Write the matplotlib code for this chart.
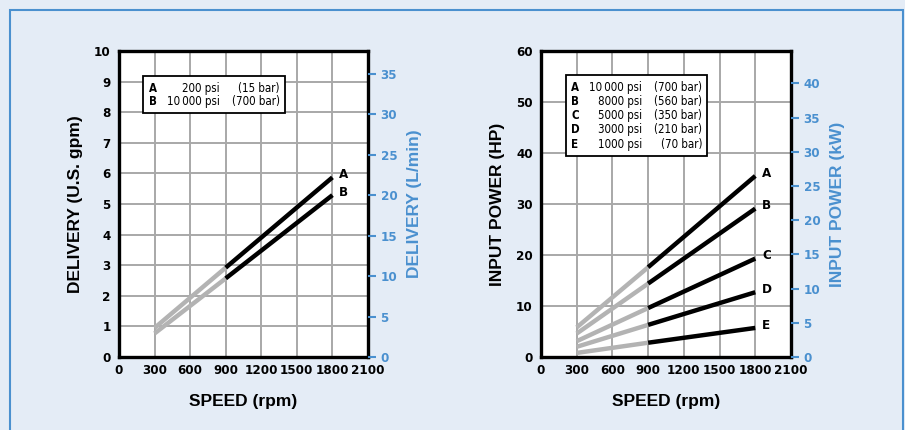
import numpy as np
import matplotlib
matplotlib.use("Agg")
import matplotlib.pyplot as plt
from matplotlib.patches import Rectangle

# speed points (rpm): gray segment 300-900, black segment 900-1800
speed = [300, 900, 1800]

# delivery (U.S. gpm)
deliv_labels = ["A", "B"]
deliv_A = [0.95, 2.92, 5.87]
deliv_B = [0.77, 2.57, 5.29]
deliv_legend = [("A", "200 psi", "(15 bar)"),
                ("B", "10\u2009000 psi", "(700 bar)")]

# input power (HP)
power_labels = ["A", "B", "C", "D", "E"]
power_A = [5.8, 17.6, 35.5]
power_B = [4.6, 14.4, 29.1]
power_C = [3.1, 9.6, 19.3]
power_D = [2.0, 6.3, 12.7]
power_E = [0.8, 2.8, 5.7]
power_legend = [("A", "10\u2009000 psi", "(700 bar)"),
                ("B", "8000 psi", "(560 bar)"),
                ("C", "5000 psi", "(350 bar)"),
                ("D", "3000 psi", "(210 bar)"),
                ("E", "1000 psi", "(70 bar)")]

GPM_TO_LPM = 3.785
HP_TO_KW = 0.7457

BG = "#e4ecf6"
BLUE = "#4a90cf"
GRAY = "#b3b3b3"
# condensed face for numbers and small labels
NARROW = dict(family="DejaVu Sans", stretch="condensed")

plt.rcParams["font.family"] = ["Liberation Sans", "DejaVu Sans"]

fig = plt.figure(figsize=(9.05, 4.3), dpi=100, facecolor=BG)
fig.patches.append(Rectangle((10 / 905, -0.05), 893 / 905, 1.05 - 10 / 430,
                             transform=fig.transFigure, fill=False,
                             edgecolor=BLUE, lw=1.5))


def narrow(labels, size=9.5):
    for t in labels:
        t.set_family(NARROW["family"])
        t.set_stretch(NARROW["stretch"])
        t.set_fontweight("bold")
        t.set_fontsize(size)


def setup(ax, ymax, ystep, ylabel, y2label, conv, y2ticks):
    ax.set_xlim(0, 2100)
    ax.set_ylim(0, ymax)
    ax.set_xticks(np.arange(0, 2101, 300))
    ax.set_yticks(np.arange(0, ymax + 0.1, ystep))
    ax.grid(True, color="#a8a8a8", lw=1.4)
    ax.set_axisbelow(True)
    for s in ax.spines.values():
        s.set_linewidth(2.4)
    ax.tick_params(length=0, pad=6)
    ax.tick_params(axis="x", pad=5)
    narrow(ax.get_xticklabels() + ax.get_yticklabels())
    ax.set_xlabel("SPEED (rpm)", fontsize=12.5, fontweight="bold", labelpad=12)
    ax.set_ylabel(ylabel, fontsize=12.5, fontweight="bold", labelpad=8)
    ax2 = ax.twinx()
    ax2.set_ylim(0, ymax * conv)
    ax2.set_yticks(y2ticks)
    ax2.tick_params(length=6, width=1.5, color=BLUE, labelcolor=BLUE, pad=3)
    narrow(ax2.get_yticklabels())
    for s in ax2.spines.values():
        s.set_visible(False)
    ax2.set_ylabel(y2label, fontsize=12.5, fontweight="bold", color=BLUE,
                   labelpad=7)
    return ax2


def draw_series(ax, series, labels):
    for ys, lab in zip(series, labels):
        ax.plot(speed[:2], ys[:2], color=GRAY, lw=3.2, solid_capstyle="butt")
        ax.plot(speed[1:], ys[1:], color="black", lw=3.2, solid_capstyle="butt")
        ax.annotate(lab, (speed[-1], ys[-1]), xytext=(5, 2),
                    textcoords="offset points", ha="left", va="center",
                    fontsize=9.5, fontweight="bold", **NARROW)


def legend_box(ax, rows, box, xs, ys):
    x0, y0, x1, y1 = box
    ax.add_patch(Rectangle((x0, y0), x1 - x0, y1 - y0, transform=ax.transAxes,
                           facecolor="white", edgecolor="black", lw=1.3,
                           zorder=3))
    for (l, p, b), y in zip(rows, ys):
        ax.text(xs[0], y, l, transform=ax.transAxes, ha="left", va="center",
                fontsize=8.3, fontweight="bold", zorder=4, **NARROW)
        ax.text(xs[1], y, p, transform=ax.transAxes, ha="right", va="center",
                fontsize=8.3, zorder=4, **NARROW)
        ax.text(xs[2], y, b, transform=ax.transAxes, ha="right", va="center",
                fontsize=8.3, zorder=4, **NARROW)


# left chart
ax1 = fig.add_axes([119 / 905, 73 / 430, 249 / 905, 306 / 430])
setup(ax1, 10, 1, "DELIVERY (U.S. gpm)", "DELIVERY (L/min)", GPM_TO_LPM,
      np.arange(0, 36, 5))
draw_series(ax1, [deliv_A, deliv_B], deliv_labels)
legend_box(ax1, deliv_legend, (0.096, 0.798, 0.667, 0.918),
           (0.12, 0.405, 0.645), (0.878, 0.834))

# right chart
ax3 = fig.add_axes([541 / 905, 73 / 430, 250 / 905, 306 / 430])
setup(ax3, 60, 10, "INPUT POWER (HP)", "INPUT POWER (kW)", HP_TO_KW,
      np.arange(0, 41, 5))
draw_series(ax3, [power_A, power_B, power_C, power_D, power_E], power_labels)
legend_box(ax3, power_legend, (0.10, 0.657, 0.664, 0.922),
           (0.12, 0.405, 0.645), (0.880, 0.834, 0.788, 0.742, 0.695))

fig.savefig("out.png", dpi=100, facecolor=BG)
